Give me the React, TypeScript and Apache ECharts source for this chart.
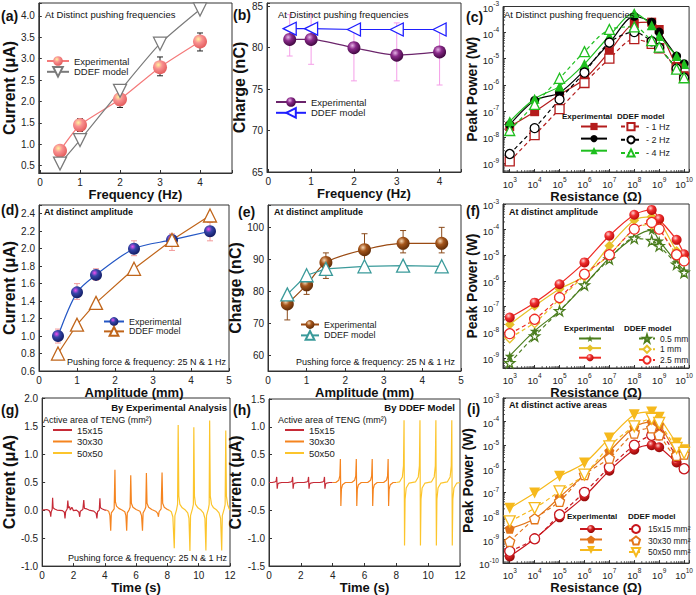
import React, { useEffect, useRef } from 'react';
import * as echarts from 'echarts';

const FONT = '"Liberation Sans", Arial, Helvetica, sans-serif';

// ---------- (a) current vs frequency, (b) charge vs frequency ----------
const freqHz = [0.5, 1, 2, 3, 4];
const currentExpA = [0.85, 1.45, 2.05, 2.8, 3.4];
const currentExpLowA = [0.77, 1.3, 1.86, 2.6, 3.18];
const currentExpHighA = [0.93, 1.6, 2.25, 3.04, 3.6];
const currentModelA = [0.55, 1.1, 2.25, 3.35, 4.15];
const chargeExpB = [81, 81, 80, 79.1, 79.5];
const chargeExpLowB = [79, 78, 76, 76, 75.5];
const chargeExpHighB = [84, 84, 82.3, 83, 82];
const chargeModelB = [82.3, 82.3, 82.2, 82.2, 82.2];

// ---------- (d) current vs amplitude, (e) charge vs amplitude ----------
const amplitudeMm = [0.5, 1, 1.5, 2.5, 3.5, 4.5];
const currentExpD = [1.0, 1.5, 1.7, 2.0, 2.1, 2.2];
const currentExpLowD = [0.92, 1.42, 1.64, 1.92, 1.98, 2.09];
const currentExpHighD = [1.08, 1.6, 1.77, 2.09, 2.17, 2.3];
const currentModelD = [0.8, 1.13, 1.38, 1.77, 2.1, 2.38];
const chargeExpE = [76, 82, 89, 93, 95, 95];
const chargeExpLowE = [71, 79, 84, 88, 92, 92];
const chargeExpHighE = [79, 85, 92, 98, 99, 100];
const chargeModelE = [79, 85, 87, 87.8, 88, 87.8];

// ---------- peak power vs resistance (log10 of W) ----------
const resistanceOhm = [1e3, 1e4, 1e5, 1e6, 1e7, 1e8, 5e8, 1e9, 5e9, 1e10];
// (c) frequencies
const logPowExp1Hz = [-7.6, -7.03, -6.38, -5.78, -4.73, -3.65, -3.6, -3.88, -5.3, -5.65];
const logPowExp2Hz = [-7.53, -6.6, -6.3, -5.44, -4.4, -3.38, -3.6, -3.98, -4.9, -5.19];
const logPowExp4Hz = [-7.4, -6.53, -6.06, -5.2, -4.13, -3.25, -3.72, -4.13, -4.9, -5.2];
const logPowMod1Hz = [-8.93, -7.93, -6.93, -5.93, -5.0, -4.25, -4.43, -4.6, -5.38, -5.73];
const logPowMod2Hz = [-8.65, -7.66, -6.56, -5.53, -4.38, -3.98, -4.33, -4.58, -5.38, -5.73];
const logPowMod4Hz = [-7.75, -6.75, -5.75, -4.73, -3.88, -3.78, -4.31, -4.56, -5.4, -5.73];
// (f) amplitudes
const logPowExp05 = [-8.93, -7.95, -7.17, -6.16, -5.1, -4.3, -4.02, -4.43, -5.28, -5.6];
const logPowMod05 = [-9.2, -8.15, -7.17, -6.16, -5.15, -4.34, -4.43, -4.63, -5.35, -5.67];
const logPowExp1 = [-7.7, -6.98, -6.32, -5.8, -4.63, -3.63, -3.5, -3.65, -4.83, -5.09];
const logPowMod1 = [-8.22, -7.63, -6.72, -5.8, -4.98, -3.98, -3.78, -3.98, -4.96, -5.22];
const logPowExp25 = [-7.43, -6.85, -6.13, -5.28, -4.24, -3.42, -3.23, -3.59, -4.4, -4.96];
const logPowMod25 = [-8.06, -7.5, -6.65, -5.74, -4.98, -3.98, -3.72, -3.98, -4.98, -5.22];
// (i) active areas
const logPowExp15 = [-9.72, -8.97, -8.06, -7.17, -6.08, -5.19, -5.0, -5.09, -5.73, -6.0];
const logPowMod15 = [-9.5, -8.97, -7.95, -7.0, -5.94, -5.0, -4.58, -4.56, -5.48, -6.0];
const logPowExp30 = [-8.54, -8.12, -7.21, -6.25, -5.26, -4.24, -4.02, -4.13, -5.29, -5.38];
const logPowMod30 = [-9.08, -8.12, -7.38, -6.25, -5.55, -4.49, -4.27, -4.56, -5.43, -5.38];
const logPowExp50 = [-7.67, -7.03, -6.32, -5.76, -4.7, -3.71, -3.59, -3.82, -4.91, -5.19];
const logPowMod50 = [-8.23, -7.67, -6.96, -6.25, -5.05, -4.2, -3.88, -4.06, -5.12, -5.33];

// ---------- (g) experimental current traces [time s, current uA] ----------
const traceExp15: [number, number][] = [[0,0],[0.3,0.01],[0.45,-0.01],[0.52,-0.05],[0.55,-0.12],[0.58,-0.03],[0.64,0.01],[0.67,0.22],[0.7,0.04],[0.8,0.02],[0.95,0.0],[1.3,-0.01],[1.42,-0.04],[1.46,-0.15],[1.5,-0.03],[1.6,0.02],[1.64,0.17],[1.68,0.04],[1.75,0.06],[1.8,0.0],[1.9,0.05],[2.0,-0.01],[2.2,0.0],[2.35,-0.04],[2.4,-0.12],[2.44,-0.02],[2.6,0.01],[2.66,0.18],[2.7,0.03],[2.85,0.02],[3.0,0.0],[3.3,-0.02],[3.45,-0.06],[3.5,-0.15],[3.54,-0.03],[3.65,0.0],[3.69,0.21],[3.72,0.04],[3.85,0.02],[4.0,0.0],[4.1,0.0]];
const traceExp30: [number, number][] = [[4.1,0],[4.25,-0.02],[4.33,-0.1],[4.38,-0.37],[4.42,-0.05],[4.5,-0.02],[4.6,0.02],[4.65,0.72],[4.68,0.15],[4.75,0.07],[4.9,0.03],[5.1,0.0],[5.28,-0.03],[5.35,-0.1],[5.4,-0.37],[5.44,-0.05],[5.55,0.0],[5.62,0.05],[5.66,0.62],[5.7,0.12],[5.8,0.05],[6.0,0.01],[6.25,-0.02],[6.35,-0.1],[6.41,-0.37],[6.45,-0.05],[6.55,0.0],[6.62,0.05],[6.66,0.66],[6.7,0.12],[6.8,0.05],[7.0,0.01],[7.25,-0.02],[7.38,-0.06],[7.43,-0.12],[7.47,-0.03],[7.6,0.02],[7.66,0.67],[7.7,0.12],[7.8,0.05],[8.0,0.01],[8.1,0.0]];
const traceExp50: [number, number][] = [[8.1,0],[8.25,-0.03],[8.35,-0.12],[8.44,-0.68],[8.48,-0.1],[8.58,0.0],[8.65,0.1],[8.69,1.52],[8.73,0.25],[8.8,0.1],[8.95,0.04],[9.15,0.0],[9.3,-0.05],[9.38,-0.15],[9.44,-0.73],[9.48,-0.1],[9.6,0.02],[9.66,0.1],[9.69,1.48],[9.73,0.25],[9.8,0.1],[9.95,0.04],[10.15,0.0],[10.3,-0.05],[10.4,-0.15],[10.46,-0.72],[10.5,-0.1],[10.62,0.02],[10.67,0.1],[10.7,1.6],[10.74,0.25],[10.82,0.1],[10.95,0.04],[11.15,0.0],[11.3,-0.05],[11.4,-0.15],[11.47,-0.72],[11.51,-0.1],[11.63,0.02],[11.69,0.1],[11.73,1.42],[11.77,0.25],[11.85,0.1],[11.95,0.02],[12,0]];

// ---------- (h) DDEF model current traces ----------
const traceMod15: [number, number][] = [[0,0],[0.2,0],[0.38,0.01],[0.45,0.03],[0.485,0.1],[0.515,-0.11],[0.55,-0.03],[0.62,-0.01],[0.8,0],[1.2,0],[1.38,0.01],[1.45,0.03],[1.485,0.1],[1.515,-0.11],[1.55,-0.03],[1.62,-0.01],[1.8,0],[2.2,0],[2.38,0.01],[2.45,0.03],[2.485,0.1],[2.515,-0.11],[2.55,-0.03],[2.62,-0.01],[2.8,0],[3.2,0],[3.38,0.01],[3.45,0.03],[3.485,0.1],[3.515,-0.11],[3.55,-0.03],[3.62,-0.01],[3.8,0],[4.0,0]];
const traceMod30: [number, number][] = [[4.0,0],[4.2,0.0],[4.38,0.04],[4.45,0.12],[4.485,0.42],[4.515,-0.42],[4.55,-0.12],[4.62,-0.04],[4.8,0],[5.2,0],[5.38,0.04],[5.45,0.12],[5.485,0.42],[5.515,-0.42],[5.55,-0.12],[5.62,-0.04],[5.8,0],[6.2,0],[6.38,0.04],[6.45,0.12],[6.485,0.42],[6.515,-0.42],[6.55,-0.12],[6.62,-0.04],[6.8,0],[7.2,0],[7.38,0.04],[7.45,0.12],[7.485,0.42],[7.515,-0.42],[7.55,-0.12],[7.62,-0.04],[7.8,0],[8.0,0]];
const traceMod50: [number, number][] = [[8.0,0],[8.2,0.01],[8.38,0.1],[8.45,0.3],[8.485,1.12],[8.515,-1.13],[8.55,-0.3],[8.62,-0.1],[8.8,-0.01],[9.2,0.01],[9.38,0.1],[9.45,0.3],[9.485,1.12],[9.515,-1.13],[9.55,-0.3],[9.62,-0.1],[9.8,-0.01],[10.2,0.01],[10.38,0.1],[10.45,0.3],[10.485,1.12],[10.515,-1.13],[10.55,-0.3],[10.62,-0.1],[10.8,-0.01],[11.2,0.01],[11.38,0.1],[11.45,0.3],[11.485,1.12],[11.515,-1.13],[11.55,-0.3],[11.62,-0.1],[11.8,-0.01],[12,0]];

// ---------- helpers ----------
type Pt = [number, number];
const zip = (xs: number[], ys: number[]): Pt[] => xs.map((x, i) => [x, ys[i]]);
const zipRes = (ys: number[]): Pt[] => resistanceOhm.map((r, i) => [Math.log10(r), ys[i]]);

const STAR = 'path://M50,0 L61,35 L98,35 L68,57 L79,91 L50,70 L21,91 L32,57 L2,35 L39,35 Z';
const PENTA = 'path://M50,0 L98,35 L80,92 L20,92 L2,35 Z';

function sphere(center: string, mid: string, edge: string) {
  return new echarts.graphic.RadialGradient(0.38, 0.33, 0.7, [
    { offset: 0, color: center },
    { offset: 0.4, color: mid },
    { offset: 1, color: edge },
  ]);
}

function line(name: string, gi: number, data: Pt[], o: any) {
  return {
    type: 'line',
    name,
    xAxisIndex: gi,
    yAxisIndex: gi,
    data,
    symbol: o.symbol ?? 'none',
    symbolSize: o.size ?? 10,
    symbolRotate: o.rotate ?? 0,
    smooth: o.smooth ?? false,
    z: 3,
    lineStyle: { color: o.color, width: o.width ?? 1.2, type: o.dash ? [4, 3] : 'solid' },
    itemStyle: o.hollow
      ? { color: '#ffffff', borderColor: o.color, borderWidth: 1.3 }
      : { color: o.fill ?? o.color, borderColor: o.border ?? o.color, borderWidth: o.border ? 0.6 : 0 },
    emphasis: { disabled: true },
  };
}

function errBars(gi: number, xs: number[], lo: number[], hi: number[], color: string) {
  return {
    type: 'custom',
    xAxisIndex: gi,
    yAxisIndex: gi,
    z: 2,
    silent: true,
    data: xs.map((x, i) => [x, lo[i], hi[i]]),
    encode: { x: 0, y: [1, 2] },
    renderItem: (_p: any, api: any) => {
      const x = api.value(0);
      const a = api.coord([x, api.value(2)]);
      const b = api.coord([x, api.value(1)]);
      const w = 3;
      const st = { stroke: color, lineWidth: 1 };
      return {
        type: 'group',
        children: [
          { type: 'line', shape: { x1: a[0], y1: a[1], x2: b[0], y2: b[1] }, style: st },
          { type: 'line', shape: { x1: a[0] - w, y1: a[1], x2: a[0] + w, y2: a[1] }, style: st },
          { type: 'line', shape: { x1: b[0] - w, y1: b[1], x2: b[0] + w, y2: b[1] }, style: st },
        ],
      };
    },
  };
}

// logarithmic minor tick positions (2..9 x 10^n) inside [lo, hi]
function logMinors(lo: number, hi: number): number[] {
  const out: number[] = [];
  for (let n = Math.floor(lo); n <= Math.ceil(hi); n++) {
    for (let k = 2; k <= 9; k++) {
      const v = n + Math.log10(k);
      if (v > lo && v < hi) out.push(v);
    }
  }
  return out;
}

function minorTicks(gi: number, xr: [number, number], yr: [number, number]) {
  const data = [
    ...logMinors(xr[0], xr[1]).map((v) => [v, yr[0], 0]),
    ...logMinors(yr[0], yr[1]).map((v) => [xr[0], v, 1]),
  ];
  return {
    type: 'custom',
    xAxisIndex: gi,
    yAxisIndex: gi,
    z: 2,
    silent: true,
    clip: false,
    data,
    encode: { x: 0, y: 1 },
    renderItem: (_p: any, api: any) => {
      const p = api.coord([api.value(0), api.value(1)]);
      const horiz = api.value(2) === 1;
      return {
        type: 'line',
        shape: horiz
          ? { x1: p[0], y1: p[1], x2: p[0] + 2, y2: p[1] }
          : { x1: p[0], y1: p[1], x2: p[0], y2: p[1] - 2 },
        style: { stroke: '#333', lineWidth: 0.8 },
      };
    },
  };
}

const isMult = (v: number, s: number) => Math.abs(v / s - Math.round(v / s)) < 1e-6;

function axisBase(gi: number, min: number, max: number, step: number, name: string, nameGap: number, nameSize: number) {
  return {
    type: 'value',
    gridIndex: gi,
    min,
    max,
    minInterval: step,
    maxInterval: step,
    splitNumber: Math.max(1, Math.round((max - min) / step)),
    splitLine: { show: false },
    axisLine: { show: true, onZero: false, lineStyle: { color: '#333', width: 1 } },
    axisTick: { show: true, inside: true, length: 3, lineStyle: { color: '#333' } },
    name,
    nameLocation: 'middle',
    nameGap,
    nameTextStyle: { fontSize: nameSize, fontWeight: 'bold', color: '#111', fontFamily: FONT },
  };
}

function linAxis(gi: number, min: number, max: number, step: number, dec: number, name: string, nameGap: number, nameSize: number) {
  return {
    ...axisBase(gi, min, max, step, name, nameGap, nameSize),
    axisLabel: {
      fontSize: 10,
      color: '#222',
      margin: 4,
      fontFamily: FONT,
      formatter: (v: number) => (isMult(v, step) ? v.toFixed(dec) : ''),
    },
  };
}

function logAxis(gi: number, min: number, max: number, name: string, nameGap: number, nameSize: number) {
  return {
    ...axisBase(gi, min, max, 1, name, nameGap, nameSize),
    axisLabel: {
      color: '#222',
      margin: 4,
      fontFamily: FONT,
      formatter: (v: number) => (isMult(v, 1) ? `{b|10}{s|${Math.round(v)}}` : ''),
      rich: {
        b: { fontSize: 9.5, lineHeight: 13, verticalAlign: 'bottom', color: '#222', fontFamily: FONT },
        s: { fontSize: 6.5, lineHeight: 13, verticalAlign: 'top', color: '#222', fontFamily: FONT },
      },
    },
  };
}

const grids = [
  { left: 38, top: 3, width: 194, height: 170 },
  { left: 267, top: 3, width: 194, height: 169 },
  { left: 503, top: 3, width: 191, height: 169 },
  { left: 39, top: 205, width: 190, height: 166 },
  { left: 268, top: 205, width: 193, height: 166 },
  { left: 503, top: 204, width: 190, height: 164 },
  { left: 39, top: 398, width: 191, height: 169 },
  { left: 269, top: 399, width: 191, height: 167 },
  { left: 503, top: 398, width: 190, height: 167 },
].map((g) => ({ ...g, show: true, borderColor: '#333', borderWidth: 1, backgroundColor: 'transparent', containLabel: false }));

const nameOf = (n: string) => n.split('|')[1];

function legend(left: number, top: number, names: string[], itemWidth: number, itemHeight: number, gap: number, fontSize: number, blank = false, icon?: string) {
  const l: any = {
    left,
    top,
    orient: 'vertical',
    data: names,
    itemWidth,
    itemHeight,
    itemGap: gap,
    selectedMode: false,
    padding: 0,
    formatter: blank ? () => '' : nameOf,
    textStyle: { fontSize, color: '#222', fontFamily: FONT },
  };
  if (icon) l.icon = icon;
  return l;
}

function txt(x: number, y: number, text: string, size: number, bold = false, align = 'left') {
  return {
    type: 'text',
    x,
    y,
    silent: true,
    z: 10,
    style: {
      text,
      fill: '#111',
      fontSize: size,
      fontWeight: bold ? 'bold' : 'normal',
      fontFamily: FONT,
      align,
      verticalAlign: 'middle',
    },
  };
}

function buildOption() {
  const sA = sphere('#fff2a0', '#f99090', '#e25a5a');
  const sB = sphere('#e6b3e6', '#8a2a8a', '#3d063d');
  const sD = sphere('#f050f0', '#3545a8', '#101a60');
  const sE = sphere('#f5d7b5', '#a5561c', '#5e2a06');
  const sF = sphere('#ffd5d5', '#f03030', '#b80808');
  const sI = sphere('#ffc8c8', '#d42020', '#8e0606');

  const cRed = '#b41c1c', cBlk = '#000000', cGrn = '#1fbf1f';
  const fGrn = '#4b7d1e', fYel = '#e6c12a', fRed = '#ee2a24';
  const iRed = '#c8161d', iOrg = '#e2751a', iYel = '#f6b91c';
  const tRed = '#c62a36', tOrg = '#f5841f', tYel = '#fcc52c';

  const series: any[] = [
    // (a)
    errBars(0, freqHz, currentExpLowA, currentExpHighA, '#222'),
    line('a|Experimental', 0, zip(freqHz, currentExpA), { symbol: 'circle', size: 14, color: '#f47a7a', fill: sA, smooth: 0.2 }),
    line('a|DDEF model', 0, zip(freqHz, currentModelA), { symbol: 'triangle', size: 13, rotate: 180, color: '#7a7a7a', hollow: true, smooth: 0.2 }),
    // (b)
    errBars(1, freqHz, chargeExpLowB, chargeExpHighB, '#f59ee8'),
    line('b|Experimental', 1, zip(freqHz, chargeExpB), { symbol: 'circle', size: 13, color: '#6b246b', fill: sB, smooth: 0.2 }),
    line('b|DDEF model', 1, zip(freqHz, chargeModelB), { symbol: 'triangle', size: 13, rotate: 90, color: '#1f1fff', hollow: true }),
    // (c)
    minorTicks(2, [2.73, 10.2], [-9.34, -3]),
    line('c|e1', 2, zipRes(logPowExp1Hz), { symbol: 'rect', size: 9, color: cRed, smooth: 0.3 }),
    line('c|e2', 2, zipRes(logPowExp2Hz), { symbol: 'circle', size: 9, color: cBlk, smooth: 0.3 }),
    line('c|e4', 2, zipRes(logPowExp4Hz), { symbol: 'triangle', size: 10, color: cGrn, smooth: 0.3 }),
    line('c|- 1 Hz', 2, zipRes(logPowMod1Hz), { symbol: 'rect', size: 9, color: cRed, hollow: true, dash: true, smooth: 0.3 }),
    line('c|- 2 Hz', 2, zipRes(logPowMod2Hz), { symbol: 'circle', size: 9, color: cBlk, hollow: true, dash: true, smooth: 0.3 }),
    line('c|- 4 Hz', 2, zipRes(logPowMod4Hz), { symbol: 'triangle', size: 10, color: cGrn, hollow: true, dash: true, smooth: 0.3 }),
    // (d)
    errBars(3, amplitudeMm, currentExpLowD, currentExpHighD, '#f29a9a'),
    line('d|Experimental', 3, zip(amplitudeMm, currentExpD), { symbol: 'circle', size: 12, color: '#2457c5', fill: sD, smooth: 0.3 }),
    line('d|DDEF model', 3, zip(amplitudeMm, currentModelD), { symbol: 'triangle', size: 13, color: '#c0651a', hollow: true }),
    // (e)
    errBars(4, amplitudeMm, chargeExpLowE, chargeExpHighE, '#8a4a1a'),
    line('e|Experimental', 4, zip(amplitudeMm, chargeExpE), { symbol: 'circle', size: 13, color: '#9a4a12', fill: sE, smooth: 0.3 }),
    line('e|DDEF model', 4, zip(amplitudeMm, chargeModelE), { symbol: 'triangle', size: 13, color: '#3a9a9a', hollow: true }),
    // (f)
    minorTicks(5, [2.73, 10.2], [-9.4, -3]),
    line('f|e05', 5, zipRes(logPowExp05), { symbol: STAR, size: 10, color: fGrn, smooth: 0.3 }),
    line('f|e1', 5, zipRes(logPowExp1), { symbol: 'diamond', size: 10, color: fYel, smooth: 0.3 }),
    line('f|e25', 5, zipRes(logPowExp25), { symbol: 'circle', size: 10, color: fRed, fill: sF, smooth: 0.3 }),
    line('f|0.5 mm', 5, zipRes(logPowMod05), { symbol: STAR, size: 10, color: fGrn, hollow: true, dash: true, smooth: 0.3 }),
    line('f|1 mm', 5, zipRes(logPowMod1), { symbol: 'diamond', size: 10, color: fYel, hollow: true, dash: true, smooth: 0.3 }),
    line('f|2.5 mm', 5, zipRes(logPowMod25), { symbol: 'circle', size: 10, color: fRed, hollow: true, dash: true, smooth: 0.3 }),
    // (g)
    line('g|15x15', 6, traceExp15, { color: tRed, width: 1.2 }),
    line('g|30x30', 6, traceExp30, { color: tOrg, width: 1.2 }),
    line('g|50x50', 6, traceExp50, { color: tYel, width: 1.2 }),
    // (h)
    line('h|15x15', 7, traceMod15, { color: tRed, width: 1.2 }),
    line('h|30x30', 7, traceMod30, { color: tOrg, width: 1.2 }),
    line('h|50x50', 7, traceMod50, { color: tYel, width: 1.2 }),
    // (i)
    minorTicks(8, [2.73, 10.2], [-10, -3]),
    line('i|e15', 8, zipRes(logPowExp15), { symbol: 'circle', size: 10, color: iRed, fill: sI, smooth: 0.3 }),
    line('i|e30', 8, zipRes(logPowExp30), { symbol: PENTA, size: 10, color: iOrg, smooth: 0.3 }),
    line('i|e50', 8, zipRes(logPowExp50), { symbol: 'triangle', size: 11, rotate: 180, color: iYel, smooth: 0.3 }),
    line('i|15x15 mm²', 8, zipRes(logPowMod15), { symbol: 'circle', size: 10, color: iRed, hollow: true, dash: true, smooth: 0.3 }),
    line('i|30x30 mm²', 8, zipRes(logPowMod30), { symbol: PENTA, size: 10, color: iOrg, hollow: true, dash: true, smooth: 0.3 }),
    line('i|50x50 mm²', 8, zipRes(logPowMod50), { symbol: 'triangle', size: 11, rotate: 180, color: iYel, hollow: true, dash: true, smooth: 0.3 }),
  ];

  const xAxis = [
    linAxis(0, -0.03, 4.8, 1, 0, 'Frequency (Hz)', 12, 13),
    linAxis(1, -0.03, 4.5, 1, 0, 'Frequency (Hz)', 12, 13),
    logAxis(2, 2.73, 10.2, 'Resistance (Ω)', 14, 13),
    linAxis(3, 0, 5, 1, 0, 'Amplitude (mm)', 12, 13),
    linAxis(4, 0, 5, 1, 0, 'Amplitude (mm)', 12, 13),
    logAxis(5, 2.73, 10.2, 'Resistance (Ω)', 14, 13),
    linAxis(6, 0, 12, 2, 0, 'Time (s)', 12, 13),
    linAxis(7, 0, 12, 2, 0, 'Time (s)', 12, 13),
    logAxis(8, 2.73, 10.2, 'Resistance (Ω)', 14, 13),
  ];
  const yAxis = [
    linAxis(0, 0.33, 4.3, 0.5, 1, 'Current (μA)', 19, 16),
    linAxis(1, 65, 85.4, 5, 0, 'Charge (nC)', 17, 16),
    logAxis(2, -9.34, -3, 'Peak Power (W)', 21, 14),
    linAxis(3, 0.6, 2.5, 0.2, 1, 'Current (μA)', 19, 16),
    linAxis(4, 55, 107, 10, 0, 'Charge (nC)', 18, 16),
    logAxis(5, -9.4, -3, 'Peak Power (W)', 21, 14),
    linAxis(6, -1, 2, 0.5, 1, 'Current (μA)', 20, 16),
    linAxis(7, -1.5, 1.5, 0.5, 1, 'Current (μA)', 20, 16),
    logAxis(8, -10, -3, 'Peak Power (W)', 21, 14),
  ];

  const LINE_ICON = 'rect';
  const legends = [
    legend(46, 56, ['a|Experimental', 'a|DDEF model'], 22, 12, 0, 9.5),
    legend(275, 97, ['b|Experimental', 'b|DDEF model'], 30, 12, 0, 9.5),
    legend(580, 122, ['c|e1', 'c|e2', 'c|e4'], 26, 9, 4, 9, true),
    legend(620, 122, ['c|- 1 Hz', 'c|- 2 Hz', 'c|- 4 Hz'], 20, 9, 4, 9),
    legend(103, 317, ['d|Experimental', 'd|DDEF model'], 20, 11, 0, 9),
    legend(300, 320, ['e|Experimental', 'e|DDEF model'], 18, 11, 1, 9),
    legend(578, 334, ['f|e05', 'f|e1', 'f|e25'], 22, 9, 1.5, 8.5, true),
    legend(638, 334, ['f|0.5 mm', 'f|1 mm', 'f|2.5 mm'], 16, 9, 1.5, 8.5),
    legend(53, 425, ['g|15x15', 'g|30x30', 'g|50x50'], 19, 2, 1.5, 9.5, false, LINE_ICON),
    legend(285, 425, ['h|15x15', 'h|30x30', 'h|50x50'], 19, 2, 1.5, 9.5, false, LINE_ICON),
    legend(579, 524, ['i|e15', 'i|e30', 'i|e50'], 22, 10, 1.5, 8.5, true),
    legend(628, 524, ['i|15x15 mm²', 'i|30x30 mm²', 'i|50x50 mm²'], 14, 10, 1.5, 8.5),
  ];

  const graphic = [
    txt(1, 16, '(a)', 14, true),
    txt(233, 15, '(b)', 14, true),
    txt(466, 17, '(c)', 14, true),
    txt(1, 210, '(d)', 14, true),
    txt(238, 212, '(e)', 14, true),
    txt(466, 211, '(f)', 14, true),
    txt(1, 410, '(g)', 14, true),
    txt(233, 410, '(h)', 14, true),
    txt(467, 409, '(i)', 14, true),
    txt(45, 14, 'At Distinct pushing frequencies', 9.5),
    txt(278, 14, 'At Distinct pushing frequencies', 9.5),
    txt(504, 14, 'At Distinct pushing frequencies', 9.5),
    txt(44, 212, 'At distinct amplitude', 9, true),
    txt(274, 212, 'At distinct amplitude', 9, true),
    txt(509, 212, 'At distinct amplitude', 9, true),
    txt(226, 362, 'Pushing force & frequency: 25 N & 1 Hz', 9, false, 'right'),
    txt(455, 362, 'Pushing force & frequency: 25 N & 1 Hz', 9, false, 'right'),
    txt(227, 558, 'Pushing force & frequency: 25 N & 1 Hz', 9, false, 'right'),
    txt(227, 407, 'By Experimental Analysis', 9.5, true, 'right'),
    txt(455, 407, 'By DDEF Model', 9.5, true, 'right'),
    txt(509, 405, 'At distinct active areas', 9, true),
    txt(43, 420, 'Active area of TENG (mm²)', 9),
    txt(278, 420, 'Active area of TENG (mm²)', 9),
    txt(562, 116, 'Experimental', 8, true),
    txt(617, 116, 'DDEF model', 8, true),
    txt(564, 328, 'Experimental', 8, true),
    txt(624, 328, 'DDEF model', 8, true),
    txt(567, 516, 'Experimental', 8, true),
    txt(628, 516, 'DDEF model', 8, true),
  ];

  return {
    animation: false,
    backgroundColor: '#ffffff',
    textStyle: { fontFamily: FONT },
    grid: grids,
    xAxis,
    yAxis,
    legend: legends,
    series,
    graphic,
  };
}

export default function App() {
  const ref = useRef<HTMLDivElement>(null);
  useEffect(() => {
    if (!ref.current) return;
    const chart = echarts.init(ref.current, undefined, { renderer: 'svg' });
    chart.setOption(buildOption() as any);
    return () => chart.dispose();
  }, []);
  return (
    <div
      ref={ref}
      style={{ position: 'fixed', left: 0, top: 0, width: 696, height: 595, background: '#fff' }}
    />
  );
}
